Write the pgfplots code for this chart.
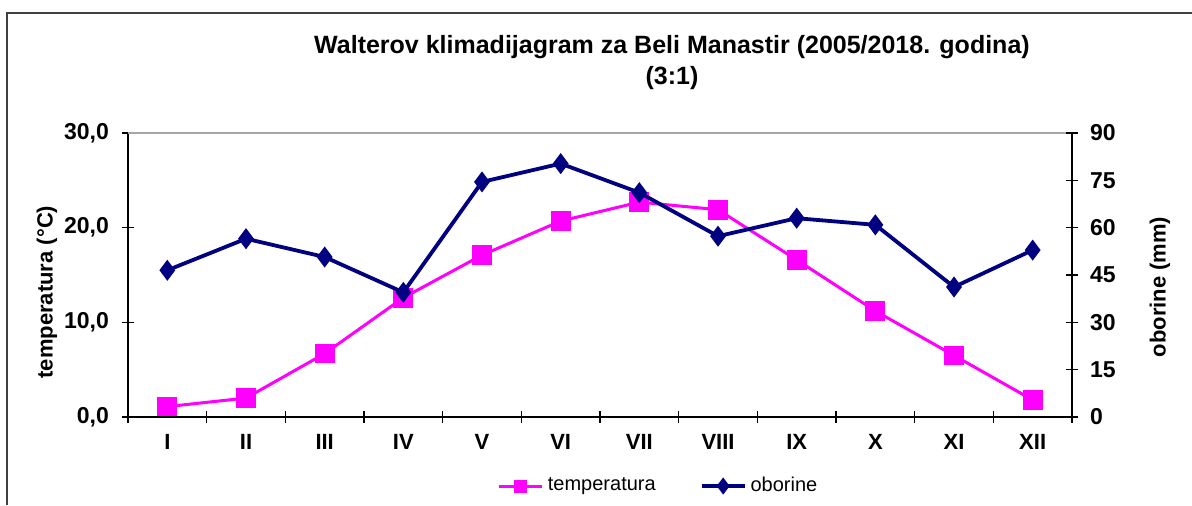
\documentclass[border=0pt]{standalone}
\usepackage{fontspec}
\setmainfont{Liberation Sans}
\usepackage{pgfplots}
\pgfplotsset{compat=1.18}
\definecolor{mag}{RGB}{255,0,255}
\definecolor{nav}{RGB}{0,0,128}

\pgfplotstableread{
x temp
0 1.1
1 2.0
2 6.7
3 12.6
4 17.1
5 20.7
6 22.7
7 21.9
8 16.6
9 11.2
10 6.5
11 1.8
}\temptab
\pgfplotstableread{
x prec
0 46.5
1 56.5
2 50.7
3 39.5
4 74.5
5 80.3
6 71.1
7 57.3
8 63.0
9 60.9
10 41.2
11 52.9
}\prectab

\begin{document}
\begin{tikzpicture}
\useasboundingbox (0,0) rectangle (596pt,252.5pt);
\draw[line width=0.9pt, black!75] (3.5pt,0) -- (3.5pt,246pt) -- (596pt,246pt);
\node[font=\bfseries\fontsize{12.5}{14}\selectfont] at (336pt,229pt) {Walterov klimadijagram za Beli Manastir (2005/2018. godina)};
\node[font=\bfseries\fontsize{12.5}{14}\selectfont] at (336pt,213.5pt) {(3:1)};

\begin{axis}[
  at={(64pt,44pt)}, anchor=south west, scale only axis,
  width=472pt, height=142pt,
  xmin=-0.5, xmax=11.5, ymin=0, ymax=30,
  axis x line*=bottom, axis y line*=left,
  axis line style={line width=0.8pt, black},
  tick align=center, major tick length=6pt, minor tick length=6pt,
  tick style={line width=0.6pt, black},
  xtick={0,...,11},
  xticklabels={I,II,III,IV,V,VI,VII,VIII,IX,X,XI,XII},
  major x tick style={draw=none},
  minor xtick={-0.5,0.5,...,11.5},
  ytick={0,10,20,30},
  xticklabel style={font=\bfseries\fontsize{11}{13}\selectfont, yshift=-2pt},
  yticklabel style={font=\bfseries\fontsize{11.5}{13}\selectfont, xshift=-3pt, /pgf/number format/.cd, fixed, fixed zerofill, precision=1, use comma, assume math mode=true},
  ylabel={temperatura (°C)},
  every axis y label/.style={at={(axis description cs:-0.0858,0.44)}, rotate=90, anchor=center, font=\bfseries\fontsize{11}{13}\selectfont},
  clip=false,
]
\draw[gray!70, line width=0.7pt] (rel axis cs:0,1) -- (rel axis cs:1,1);
\addplot[mag, line width=1.5pt, mark=square*, mark size=4.2pt, mark options={solid}] table[x=x, y=temp] {\temptab};
\end{axis}

\begin{axis}[
  at={(64pt,44pt)}, anchor=south west, scale only axis,
  width=472pt, height=142pt,
  xmin=-0.5, xmax=11.5, ymin=0, ymax=90,
  axis x line=none, axis y line*=right,
  axis line style={line width=0.8pt, black},
  tick align=center, major tick length=6pt,
  tick style={line width=0.6pt, black},
  ytick={0,15,30,45,60,75,90},
  yticklabel style={font=\bfseries\fontsize{11.5}{13}\selectfont, xshift=2.5pt, /pgf/number format/assume math mode=true},
  ylabel={oborine (mm)},
  every axis y label/.style={at={(axis description cs:1.093,0.458)}, rotate=90, anchor=center, font=\bfseries\fontsize{11}{13}\selectfont},
  legend style={at={(axis description cs:0.563,-0.243)}, anchor=center, draw=none, fill=none,
    legend columns=2, font=\fontsize{10}{12}\selectfont,
    /tikz/every even column/.append style={column sep=20pt}},
  legend image code/.code={\draw[mark repeat=2,mark phase=2] plot coordinates {(0cm,0cm) (0.38cm,0cm) (0.76cm,0cm)};},
  clip=false,
]
\addlegendimage{mag, line width=1.5pt, mark=square*, mark size=2.5pt, mark options={solid}}
\addlegendentry{temperatura}
\addlegendimage{nav, line width=1.8pt, mark=diamond*, mark size=2.8pt, mark options={solid}}
\addlegendentry{oborine}
\addplot[nav, line width=1.9pt, mark=diamond*, mark size=3.7pt, mark options={solid}, forget plot] table[x=x, y=prec] {\prectab};
\end{axis}
\end{tikzpicture}
\end{document}
